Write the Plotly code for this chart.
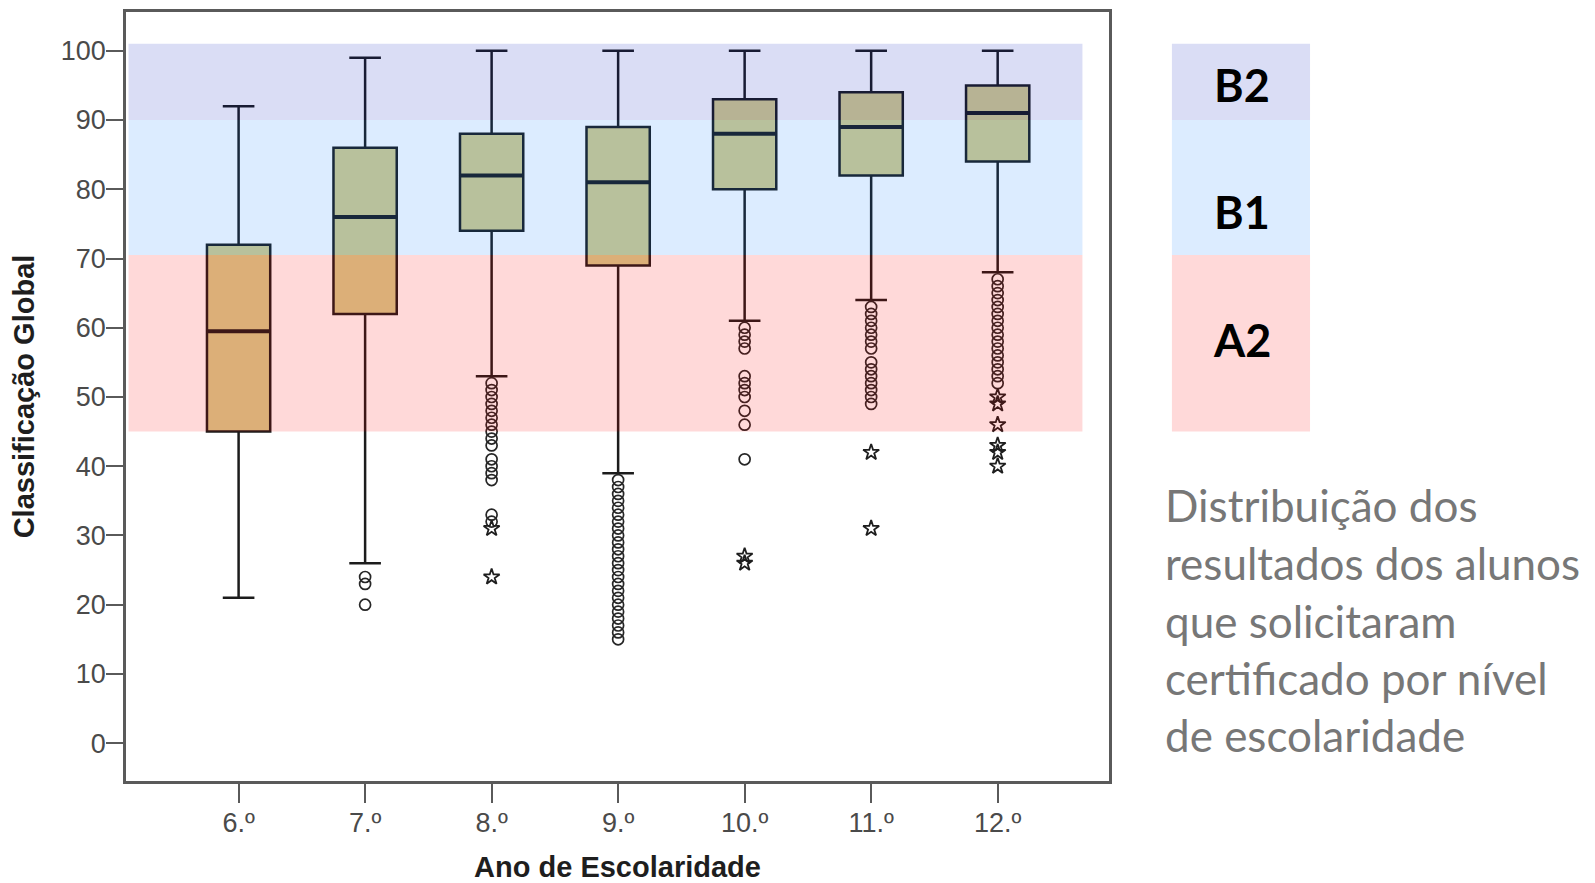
import plotly.graph_objects as go

# ---------------- data ----------------
grades = ["6.º", "7.º", "8.º", "9.º", "10.º", "11.º", "12.º"]
lower_whisker = [21, 26, 53, 39, 61, 64, 68]
q1 = [45, 62, 74, 69, 80, 82, 84]
median = [59.5, 76, 82, 81, 88, 89, 91]
q3 = [72, 86, 88, 89, 93, 94, 95]
upper_whisker = [92, 99, 100, 100, 100, 100, 100]

# outliers (circles) per grade
mild_6 = []
mild_7 = [24, 23, 20]
mild_8 = [52, 51, 50, 49, 48, 47, 46, 45, 44, 43, 41, 40, 39, 38, 33, 32]
mild_9 = [38, 37, 36, 35, 34, 33, 32, 31, 30, 29, 28, 27, 26, 25, 24, 23, 22, 21, 20, 19, 18, 17, 16, 15]
mild_10 = [60, 59, 58, 57, 53, 52, 51, 50, 48, 46, 41]
mild_11 = [63, 62, 61, 60, 59, 58, 57, 55, 54, 53, 52, 51, 50, 49]
mild_12 = [67, 66, 65, 64, 63, 62, 61, 60, 59, 58, 57, 56, 55, 54, 53, 52]
# extreme values (stars) per grade
extreme_6 = []
extreme_7 = []
extreme_8 = [31, 24]
extreme_9 = []
extreme_10 = [27, 26]
extreme_11 = [42, 31]
extreme_12 = [50, 49, 46, 43, 42, 40]

mild = [mild_6, mild_7, mild_8, mild_9, mild_10, mild_11, mild_12]
extreme = [extreme_6, extreme_7, extreme_8, extreme_9, extreme_10, extreme_11, extreme_12]

# CEFR level bands
level_names = ["A2", "B1", "B2"]
level_low = [45, 70.5, 90]
level_high = [70.5, 90, 101]
level_colors = ["rgba(255,0,0,0.15)", "rgba(0,120,255,0.137)", "rgba(10,25,190,0.15)"]
level_label_y = [58.2, 76.7, 95]

y_ticks = [0, 10, 20, 30, 40, 50, 60, 70, 80, 90, 100]
y_title = "Classificação Global"
x_title = "Ano de Escolaridade"
desc_lines = ["Distribuição dos", "resultados dos alunos", "que solicitaram",
              "certificado por nível", "de escolaridade"]

# ---------------- figure ----------------
fig = go.Figure()

fig.add_trace(go.Box(
    x=grades, q1=q1, median=median, q3=q3,
    lowerfence=lower_whisker, upperfence=upper_whisker,
    fillcolor="#d6ce8d", line=dict(color="#1c1c1c", width=2.5),
    width=0.5, whiskerwidth=0.5, boxpoints=False, showlegend=False,
))

mx, my = [], []
ex, ey = [], []
for g, vals in zip(grades, mild):
    mx += [g] * len(vals)
    my += vals
for g, vals in zip(grades, extreme):
    ex += [g] * len(vals)
    ey += vals

fig.add_trace(go.Scatter(
    x=mx, y=my, mode="markers", showlegend=False,
    marker=dict(symbol="circle-open", size=11, color="#262626", line=dict(width=1.7)),
))
fig.add_trace(go.Scatter(
    x=ex, y=ey, mode="markers", showlegend=False,
    marker=dict(symbol="star-open", size=12, color="#1e1e1e", line=dict(width=1.8)),
))

shapes = []
# thicker median lines
for i, m in enumerate(median):
    shapes.append(dict(type="line", xref="x", yref="y", x0=i - 0.25, x1=i + 0.25,
                       y0=m, y1=m, line=dict(color="#1c1c1c", width=4), layer="above"))
# translucent level bands over the plot
for lo, hi, col in zip(level_low, level_high, level_colors):
    shapes.append(dict(type="rect", xref="x", yref="y", x0=-0.87, x1=6.67, y0=lo, y1=hi,
                       fillcolor=col, line=dict(width=0), layer="above"))
    # legend boxes at the right
    shapes.append(dict(type="rect", xref="paper", yref="y", x0=1.064, x1=1.2045, y0=lo, y1=hi,
                       fillcolor=col, line=dict(width=0), layer="above"))

annotations = []
for name, yy in zip(level_names, level_label_y):
    annotations.append(dict(xref="paper", yref="y", x=1.1353, y=yy, text=name, showarrow=False,
                            xanchor="center", yanchor="middle",
                            font=dict(family="Lato", size=45, color="#000000", weight="bold")))
line_px = [504, 562, 620, 677, 735]
for txt, py in zip(desc_lines, line_px):
    annotations.append(dict(xref="paper", yref="paper", x=(1163 - 126) / 983, y=(781 - py) / 773,
                            text=txt, showarrow=False, xanchor="left", yanchor="middle",
                            font=dict(family="Lato", size=44, color="#777777")))

# the page body has an 8px margin, so the figure is sized/offset to compensate
fig.update_layout(
    width=1587, height=875,
    margin=dict(l=118, r=486, t=1, b=101),
    paper_bgcolor="white", plot_bgcolor="white",
    shapes=shapes, annotations=annotations,
    font=dict(family="Liberation Sans", color="#4a4a4a"),
)
fig.update_xaxes(
    type="category", range=[-0.89, 6.88],
    showline=True, linecolor="#5a5a5a", linewidth=2.5, mirror=True,
    ticks="outside", ticklen=19, tickwidth=2, tickcolor="#5a5a5a", ticklabelstandoff=-3,
    tickfont=dict(family="Liberation Sans", size=27, color="#4a4a4a"), showgrid=False, zeroline=False,
    title=dict(text=x_title, standoff=24,
               font=dict(family="Liberation Sans", size=29, color="#1e1e1e", weight="bold")),
)
fig.update_yaxes(
    range=[-5.46, 105.6], tickvals=y_ticks,
    showline=True, linecolor="#5a5a5a", linewidth=2.5, mirror=True,
    ticks="outside", ticklen=17, tickwidth=2, tickcolor="#5a5a5a", ticklabelstandoff=-5,
    tickfont=dict(family="Liberation Sans", size=27, color="#4a4a4a"), showgrid=False, zeroline=False,
    title=dict(text=y_title, standoff=18,
               font=dict(family="Liberation Sans", size=29, color="#1e1e1e", weight="bold")),
)

fig.write_html("out.html")
